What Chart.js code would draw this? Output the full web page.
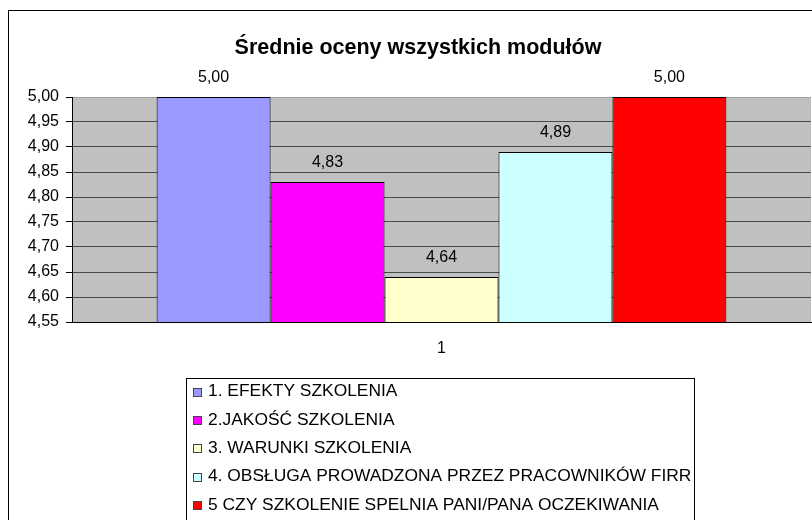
<!DOCTYPE html>
<html>
<head>
<meta charset="utf-8">
<script src="https://cdn.jsdelivr.net/npm/chart.js@4"></script>
<style>
  html, body { margin: 0; padding: 0; background: #fff; }
  #wrap { width: 812px; height: 520px; }
</style>
</head>
<body>
<div id="wrap"><canvas id="chart" width="812" height="520"></canvas></div>
<script>
// ── Data ──────────────────────────────────────────────────────────────────────
const TITLE = 'Średnie oceny wszystkich modułów';
const CATEGORIES = ['1'];
const SERIES_LABELS = [
  '1. EFEKTY SZKOLENIA',
  '2.JAKOŚĆ SZKOLENIA',
  '3. WARUNKI SZKOLENIA',
  '4. OBSŁUGA PROWADZONA PRZEZ PRACOWNIKÓW FIRR',
  '5 CZY SZKOLENIE SPELNIA PANI/PANA OCZEKIWANIA'
];
const SERIES_VALUES = [5.00, 4.83, 4.64, 4.89, 5.00];
const SERIES_COLORS = ['#9999ff', '#ff00ff', '#ffffcc', '#ccffff', '#ff0000'];
const Y_MIN = 4.55, Y_MAX = 5.00, Y_STEP = 0.05;

const FONT = "'Liberation Sans', Arial, sans-serif";
const fmt = v => Number(v).toFixed(2).replace('.', ',');

// ── Plugins ───────────────────────────────────────────────────────────────────

// gray plot area, outer chart frame and the title
const backdrop = {
  id: 'backdrop',
  beforeDraw(chart) {
    const { ctx, chartArea: a } = chart;
    ctx.save();
    ctx.fillStyle = '#c0c0c0';
    ctx.fillRect(a.left, a.top, a.right - a.left, a.bottom - a.top);
    ctx.strokeStyle = '#000';
    ctx.lineWidth = 1;
    ctx.strokeRect(8.5, 10.5, 900, 600);
    ctx.font = 'bold 21.5px ' + FONT;
    ctx.fillStyle = '#000';
    ctx.textAlign = 'center';
    ctx.textBaseline = 'middle';
    ctx.fillText(TITLE, 418, 48);
    ctx.restore();
  }
};

// value labels above each bar
const valueLabels = {
  id: 'valueLabels',
  afterDatasetsDraw(chart) {
    const ctx = chart.ctx;
    ctx.save();
    ctx.font = '16px ' + FONT;
    ctx.fillStyle = '#000';
    ctx.textAlign = 'center';
    ctx.textBaseline = 'middle';
    chart.data.datasets.forEach((ds, i) => {
      chart.getDatasetMeta(i).data.forEach((bar, j) => {
        ctx.fillText(fmt(ds.data[j]), bar.x, bar.y - 19);
      });
    });
    ctx.restore();
  }
};

// boxed legend under the plot, one entry per row
const boxLegend = {
  id: 'boxLegend',
  afterDraw(chart) {
    const ctx = chart.ctx;
    ctx.save();
    ctx.strokeStyle = '#000';
    ctx.lineWidth = 1;
    ctx.strokeRect(186.5, 378.5, 508, 300);
    ctx.font = '17.4px ' + FONT;
    ctx.textBaseline = 'middle';
    ctx.textAlign = 'left';
    chart.data.datasets.forEach((ds, i) => {
      const y = 391.5 + i * 28.4;
      ctx.fillStyle = ds.backgroundColor;
      ctx.fillRect(193, Math.round(y - 4), 9, 9);
      ctx.strokeStyle = '#444';
      ctx.strokeRect(193.5, Math.round(y - 4) + 0.5, 8, 8);
      ctx.fillStyle = '#000';
      ctx.fillText(ds.label, 208, y);
    });
    ctx.restore();
  }
};

// ── Chart ─────────────────────────────────────────────────────────────────────
const datasets = SERIES_LABELS.map((label, i) => ({
  label,
  data: [SERIES_VALUES[i]],
  backgroundColor: SERIES_COLORS[i],
  borderColor: '#000',
  borderWidth: 1,
  categoryPercentage: 0.771,
  barPercentage: 1.0
}));

new Chart(document.getElementById('chart'), {
  type: 'bar',
  data: { labels: CATEGORIES, datasets },
  plugins: [backdrop, valueLabels, boxLegend],
  options: {
    responsive: false,
    animation: false,
    layout: { padding: { top: 97, left: 8, right: 1, bottom: 158 } },
    plugins: {
      legend: { display: false },
      tooltip: { enabled: false },
      title: { display: false }
    },
    scales: {
      x: {
        grid: { display: false },
        border: { display: true, color: '#000', width: 1 },
        ticks: { color: '#000', font: { family: FONT, size: 16 }, padding: 9 },
        afterFit(s) { s.height = 40; }
      },
      y: {
        min: Y_MIN,
        max: Y_MAX,
        grid: {
          color: ctx => ctx.tick && ctx.tick.value >= Y_MAX - 1e-9 ? '#a0a0a0' : '#4a4a4a',
          tickColor: '#000',
          tickLength: 6,
          drawTicks: true
        },
        border: { display: true, color: '#000', width: 1 },
        ticks: {
          stepSize: Y_STEP,
          color: '#000',
          padding: 7,
          font: { family: FONT, size: 16 },
          callback: v => fmt(v)
        },
        afterFit(s) { s.width = 64; }
      }
    }
  }
});
</script>
</body>
</html>
